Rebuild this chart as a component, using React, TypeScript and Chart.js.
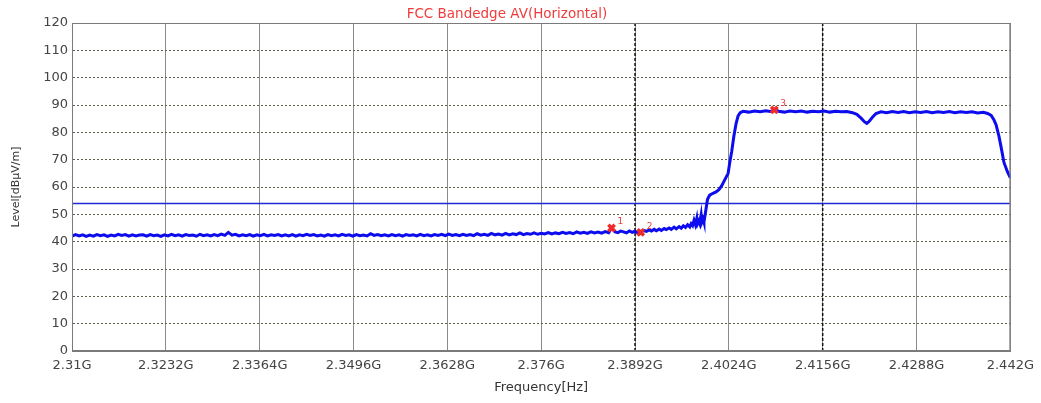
import React, { useEffect, useRef } from "react";
import { Chart, registerables } from "chart.js";

Chart.register(...registerables);

const chartTitle = "FCC Bandedge AV(Horizontal)";
const xAxisTitle = "Frequency[Hz]";
const yAxisTitle = "Level[dBμV/m]";

const xTickValues = [2.31, 2.3232, 2.3364, 2.3496, 2.3628, 2.376, 2.3892, 2.4024, 2.4156, 2.4288, 2.442];
const xTickLabels = ["2.31G", "2.3232G", "2.3364G", "2.3496G", "2.3628G", "2.376G", "2.3892G", "2.4024G", "2.4156G", "2.4288G", "2.442G"];
const yTickValues = [0, 10, 20, 30, 40, 50, 60, 70, 80, 90, 100, 110, 120];

const limitFreqs = [2.31, 2.442];
const limitLevels = [54, 54];

const dashedLineFreqs = [2.3892, 2.4156];
const dashedLineLevels = [0, 120];

const markerFreqs = [2.3859, 2.39, 2.4088];
const markerLevels = [45.0, 43.4, 88.2];
const markerLabels = ["1", "2", "3"];

const traceFreqs = [
  2.3100, 2.3105, 2.3110, 2.3115, 2.3120, 2.3125, 2.3130, 2.3135, 2.3140, 2.3145,
  2.3150, 2.3155, 2.3160, 2.3165, 2.3170, 2.3175, 2.3180, 2.3185, 2.3190, 2.3195,
  2.3200, 2.3205, 2.3210, 2.3215, 2.3220, 2.3225, 2.3230, 2.3235, 2.3240, 2.3245,
  2.3250, 2.3255, 2.3260, 2.3265, 2.3270, 2.3275, 2.3280, 2.3285, 2.3290, 2.3295,
  2.3300, 2.3305, 2.3310, 2.3315, 2.3320, 2.3325, 2.3330, 2.3335, 2.3340, 2.3345,
  2.3350, 2.3355, 2.3360, 2.3365, 2.3370, 2.3375, 2.3380, 2.3385, 2.3390, 2.3395,
  2.3400, 2.3405, 2.3410, 2.3415, 2.3420, 2.3425, 2.3430, 2.3435, 2.3440, 2.3445,
  2.3450, 2.3455, 2.3460, 2.3465, 2.3470, 2.3475, 2.3480, 2.3485, 2.3490, 2.3495,
  2.3500, 2.3505, 2.3510, 2.3515, 2.3520, 2.3525, 2.3530, 2.3535, 2.3540, 2.3545,
  2.3550, 2.3555, 2.3560, 2.3565, 2.3570, 2.3575, 2.3580, 2.3585, 2.3590, 2.3595,
  2.3600, 2.3605, 2.3610, 2.3615, 2.3620, 2.3625, 2.3630, 2.3635, 2.3640, 2.3645,
  2.3650, 2.3655, 2.3660, 2.3665, 2.3670, 2.3675, 2.3680, 2.3685, 2.3690, 2.3695,
  2.3700, 2.3705, 2.3710, 2.3715, 2.3720, 2.3725, 2.3730, 2.3735, 2.3740, 2.3745,
  2.3750, 2.3755, 2.3760, 2.3765, 2.3770, 2.3775, 2.3780, 2.3785, 2.3790, 2.3795,
  2.3800, 2.3805, 2.3810, 2.3815, 2.3820, 2.3825, 2.3830, 2.3835, 2.3840, 2.3845,
  2.3850, 2.3855,
  2.3859, 2.3864, 2.3868, 2.3872, 2.3876, 2.3880, 2.3884, 2.3888, 2.3892, 2.3896,
  2.3900, 2.3904, 2.3908, 2.3912, 2.3915, 2.3919, 2.3922, 2.3926, 2.3929, 2.3933,
  2.3936, 2.3940, 2.3943, 2.3947, 2.3950, 2.3954, 2.3957, 2.3960, 2.3963, 2.3966,
  2.3969, 2.3971, 2.3973, 2.3975, 2.3977, 2.3979, 2.3980, 2.3982, 2.3983, 2.3985,
  2.3986, 2.3988, 2.3989, 2.3991, 2.3994, 2.3997, 2.4001, 2.4006, 2.4010, 2.4014,
  2.4018, 2.4023, 2.4025, 2.4028, 2.4031, 2.4034, 2.4037, 2.4040, 2.4044,
  2.4052, 2.4060, 2.4068, 2.4076, 2.4082, 2.4088, 2.4094, 2.4102, 2.4110, 2.4118,
  2.4126, 2.4134, 2.4142, 2.4150, 2.4158, 2.4166, 2.4174, 2.4182, 2.4190, 2.4198,
  2.4204, 2.4210, 2.4215, 2.4218, 2.4221, 2.4226, 2.4231, 2.4238, 2.4246, 2.4254,
  2.4262, 2.4270, 2.4278, 2.4286, 2.4294, 2.4302, 2.4310, 2.4318, 2.4326, 2.4334,
  2.4342, 2.4350, 2.4358, 2.4366, 2.4374, 2.4382, 2.4388, 2.4393, 2.4397, 2.4400,
  2.4404, 2.4407, 2.4411, 2.4416, 2.4420,
];

const traceLevels = [
  42.0, 42.6, 42.1, 42.5, 41.9, 42.4, 42.0, 42.6, 42.2, 42.5,
  41.9, 42.4, 42.1, 42.7, 42.3, 42.6, 42.0, 42.5, 42.1, 42.4,
  42.5, 42.0, 42.6, 42.2, 42.4, 41.9, 42.5, 42.1, 42.7, 42.2,
  42.5, 42.0, 42.6, 42.3, 42.4, 42.0, 42.7, 42.2, 42.5, 42.1,
  42.6, 42.2, 42.8, 42.3, 43.4, 42.4, 42.7, 42.1, 42.5, 42.2,
  42.6, 42.0, 42.5, 42.2, 42.7, 42.1, 42.5, 42.3, 42.6, 42.1,
  42.5, 42.1, 42.6, 42.0, 42.5, 42.2, 42.7, 42.3, 42.6, 42.1,
  42.4, 42.0, 42.6, 42.2, 42.5, 42.1, 42.7, 42.3, 42.5, 42.0,
  42.6, 42.2, 42.4, 42.1, 42.9, 42.3, 42.6, 42.2, 42.5, 42.1,
  42.6, 42.2, 42.5, 42.0, 42.6, 42.3, 42.5, 42.1, 42.7, 42.2,
  42.5, 42.1, 42.6, 42.3, 42.7, 42.2, 42.8, 42.3, 42.6, 42.2,
  42.7, 42.3, 42.6, 42.2, 42.9, 42.4, 42.7, 42.3, 43.0, 42.5,
  42.8, 42.4, 43.0, 42.5, 42.9, 42.6, 43.2, 42.6, 43.0, 42.7,
  43.2, 42.7, 43.1, 42.8, 43.3, 42.8, 43.2, 42.9, 43.4, 43.0,
  43.3, 42.9, 43.6, 43.1, 43.4, 43.0, 43.6, 43.2, 43.5, 43.1,
  43.7, 43.3,
  45.0, 43.6, 43.3, 43.9, 43.6, 43.2, 43.9, 43.4, 43.8, 43.2,
  43.4, 44.1, 43.8, 44.3, 43.9, 44.5, 44.0, 44.6, 44.1, 44.8,
  44.4, 45.0, 44.5, 45.3, 44.7, 45.5, 44.9, 45.8, 45.2, 46.2,
  45.4, 46.6, 45.9, 47.8, 46.2, 48.6, 46.5, 47.6, 46.8, 49.8,
  47.0, 48.2, 47.2, 50.5, 55.5, 57.0, 57.6, 58.2, 59.0, 60.5,
  62.5, 65.0, 68.5, 73.0, 78.5, 83.0, 86.0, 87.2, 87.7,
  87.4, 87.8, 87.5, 87.9, 87.6, 88.2, 87.7, 87.4, 87.8, 87.5,
  87.8, 87.4, 87.7, 87.5, 87.8, 87.4, 87.7, 87.5, 87.6, 87.2,
  86.6, 85.2, 83.8, 83.3, 83.9, 85.5, 86.9, 87.5, 87.2, 87.6,
  87.3, 87.6, 87.2, 87.5, 87.3, 87.6, 87.2, 87.5, 87.3, 87.6,
  87.2, 87.5, 87.3, 87.5, 87.1, 87.3, 86.9, 86.2, 84.5, 82.7,
  78.5, 74.6, 69.0, 65.5, 63.3,
];

const FONT = "'DejaVu Sans', sans-serif";

const framePlugin = {
  id: "frameAndMarkerLabels",
  afterDatasetsDraw(chart: any) {
    const { ctx, chartArea: a } = chart;
    ctx.save();
    ctx.strokeStyle = "#7a7a7a";
    ctx.lineWidth = 1;
    ctx.strokeRect(a.left + 0.5, a.top + 0.5, a.right - a.left - 1, a.bottom - a.top - 1);
    const meta = chart.getDatasetMeta(0);
    ctx.fillStyle = "#f03a3a";
    ctx.font = `9px ${FONT}`;
    ctx.textAlign = "left";
    ctx.textBaseline = "middle";
    meta.data.forEach((pt: any, i: number) => {
      ctx.fillText(markerLabels[i], pt.x + 6, pt.y - 6);
    });
    ctx.restore();
  },
};

export default function App() {
  const canvasRef = useRef<HTMLCanvasElement | null>(null);

  useEffect(() => {
    if (!canvasRef.current) return;
    const chart = new Chart(canvasRef.current, {
      type: "line",
      data: {
        datasets: [
          {
            label: "Markers",
            data: markerFreqs.map((f, i) => ({ x: f, y: markerLevels[i] })),
            showLine: false,
            pointStyle: "crossRot",
            pointRadius: 4.5,
            pointBorderWidth: 3.5,
            borderColor: "#f02a2a",
            backgroundColor: "#f02a2a",
          },
          {
            label: "Trace",
            data: traceFreqs.map((f, i) => ({ x: f, y: traceLevels[i] })),
            borderColor: "#0c0cee",
            borderWidth: 3,
            pointRadius: 0,
            tension: 0,
            fill: false,
          },
          {
            label: "Limit",
            data: limitFreqs.map((f, i) => ({ x: f, y: limitLevels[i] })),
            borderColor: "#1e2ad8",
            borderWidth: 1.5,
            pointRadius: 0,
            fill: false,
          },
          ...dashedLineFreqs.map((f) => ({
            label: "Edge",
            data: dashedLineLevels.map((lv) => ({ x: f, y: lv })),
            borderColor: "#111111",
            borderWidth: 1.5,
            borderDash: [3, 2],
            pointRadius: 0,
            fill: false,
          })),
        ],
      },
      options: {
        responsive: false,
        animation: false,
        devicePixelRatio: 1,
        layout: { padding: { left: 0, right: 27, top: 0, bottom: 0 } },
        plugins: {
          legend: { display: false },
          tooltip: { enabled: false },
          title: {
            display: true,
            text: chartTitle,
            color: "#f03c3c",
            font: { family: FONT, size: 13.5, weight: "normal", lineHeight: 1.2 },
            padding: { top: 6, bottom: 0.8 },
          },
        },
        scales: {
          x: {
            type: "linear",
            min: xTickValues[0],
            max: xTickValues[xTickValues.length - 1],
            afterBuildTicks: (scale: any) => {
              scale.ticks = xTickValues.map((v) => ({ value: v }));
            },
            afterFit: (scale: any) => {
              scale.height = 52;
            },
            ticks: {
              autoSkip: false,
              maxRotation: 0,
              minRotation: 0,
              padding: 7,
              color: "#444444",
              font: { family: FONT, size: 13 },
              callback: (_v: any, i: number) => xTickLabels[i],
            },
            grid: { color: "#8a8a8a", lineWidth: 1, drawTicks: false },
            border: { color: "#7a7a7a" },
            title: {
              display: true,
              text: xAxisTitle,
              color: "#333333",
              font: { family: FONT, size: 13, lineHeight: 1.2 },
              padding: { top: 0, bottom: 8 },
            },
          },
          y: {
            type: "linear",
            min: 0,
            max: 120,
            afterBuildTicks: (scale: any) => {
              scale.ticks = yTickValues.map((v) => ({ value: v }));
            },
            afterFit: (scale: any) => {
              scale.width = 72;
            },
            ticks: {
              padding: 4,
              color: "#444444",
              font: { family: FONT, size: 13 },
              callback: (v: any) => String(v),
            },
            grid: { color: "#5c5c48", lineWidth: 1, drawTicks: false },
            border: { color: "#7a7a7a", dash: [2, 2] },
            title: {
              display: true,
              text: yAxisTitle,
              color: "#333333",
              font: { family: FONT, size: 11, lineHeight: 1.2 },
              padding: { top: 10, bottom: 0 },
            },
          },
        },
      },
      plugins: [framePlugin],
    } as any);
    return () => chart.destroy();
  }, []);

  return (
    <div style={{ position: "fixed", left: 0, top: 0, width: 1041, height: 403, background: "#ffffff" }}>
      <canvas ref={canvasRef} width={1041} height={403} style={{ display: "block" }} />
    </div>
  );
}
